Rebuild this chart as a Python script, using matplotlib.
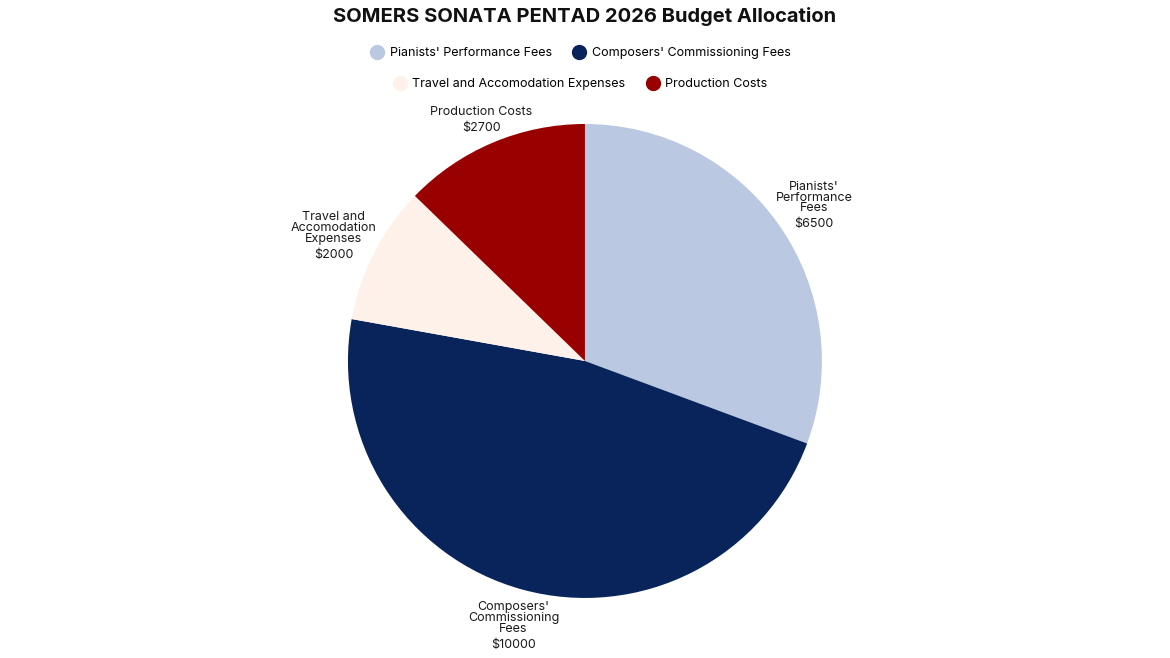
import numpy as np
import matplotlib
matplotlib.use('Agg')
import matplotlib.pyplot as plt
from matplotlib.lines import Line2D

plt.rcParams['font.family'] = ['Inter', 'DejaVu Sans']

# datos
categorias = ["Pianists' Performance Fees", "Composers' Commissioning Fees",
              "Travel and Accomodation Expenses", "Production Costs"]
etiquetas = ["Pianists'\nPerformance\nFees", "Composers'\nCommissioning\nFees",
             "Travel and\nAccomodation\nExpenses", "Production Costs"]
valores = [6500, 10000, 2000, 2700]
colores = ['#bac9e1', '#08245a', '#fdf1ea', '#990000']

fig = plt.figure(figsize=(11.7, 6.58), dpi=100)
ax = fig.add_axes([0.2974, 0.0912, 0.4051, 0.7204])
wedges, _ = ax.pie(valores, colors=colores, startangle=90, counterclock=False,
                   radius=1, wedgeprops={'linewidth': 0})
ax.set_xlim(-1, 1)
ax.set_ylim(-1, 1)
ax.set_aspect('equal')

# etiquetas fuera del pastel: la caja de texto se empuja hacia afuera
lh = 11
textos = []
for w, lab, v in zip(wedges, etiquetas, valores):
    n = lab.count('\n') + 1
    H = lh * n + 4 + lh
    t1 = ax.annotate(lab, (0, 0), xytext=(0, H / 2 - lh * n - 3.5), textcoords='offset pixels',
                     ha='center', va='bottom', fontsize=9, linespacing=0.85,
                     color='#1a1a1a', annotation_clip=False)
    t2 = ax.annotate('$' + str(v), (0, 0), xytext=(0, H / 2 - lh * n - 7.5), textcoords='offset pixels',
                     ha='center', va='top', fontsize=9, color='#1a1a1a', annotation_clip=False)
    textos.append((w, t1, t2, H))

fig.canvas.draw()
r_px = ax.transData.transform((1, 0))[0] - ax.transData.transform((0, 0))[0]
for w, t1, t2, H in textos:
    ang = np.deg2rad((w.theta1 + w.theta2) / 2)
    ux, uy = np.cos(ang), np.sin(ang)
    hw = max(t1.get_window_extent().width, t2.get_window_extent().width) / 2
    hh = 1.2 * H / 2
    d = (0.975 * r_px + hw * abs(ux) + hh * abs(uy)) / r_px
    t1.xy = (d * ux, d * uy)
    t2.xy = (d * ux, d * uy)

fig.text(0.5, 1 - 17 / 658, 'SOMERS SONATA PENTAD 2026 Budget Allocation',
         ha='center', va='center', fontsize=14.5, fontweight='bold', color='#111111')

handles = [Line2D([], [], marker='o', linestyle='none', markersize=10,
                  markerfacecolor=c, markeredgecolor=c) for c in colores]
fig.legend(handles[:2], categorias[:2], ncol=2, loc='center',
           bbox_to_anchor=(580 / 1170, 1 - 53 / 658), frameon=False, fontsize=9,
           handletextpad=0.4, columnspacing=1.6, handlelength=1.2)
fig.legend(handles[2:], categorias[2:], ncol=2, loc='center',
           bbox_to_anchor=(580 / 1170, 1 - 84 / 658), frameon=False, fontsize=9,
           handletextpad=0.4, columnspacing=1.6, handlelength=1.2)

fig.savefig('out.png', dpi=100)
